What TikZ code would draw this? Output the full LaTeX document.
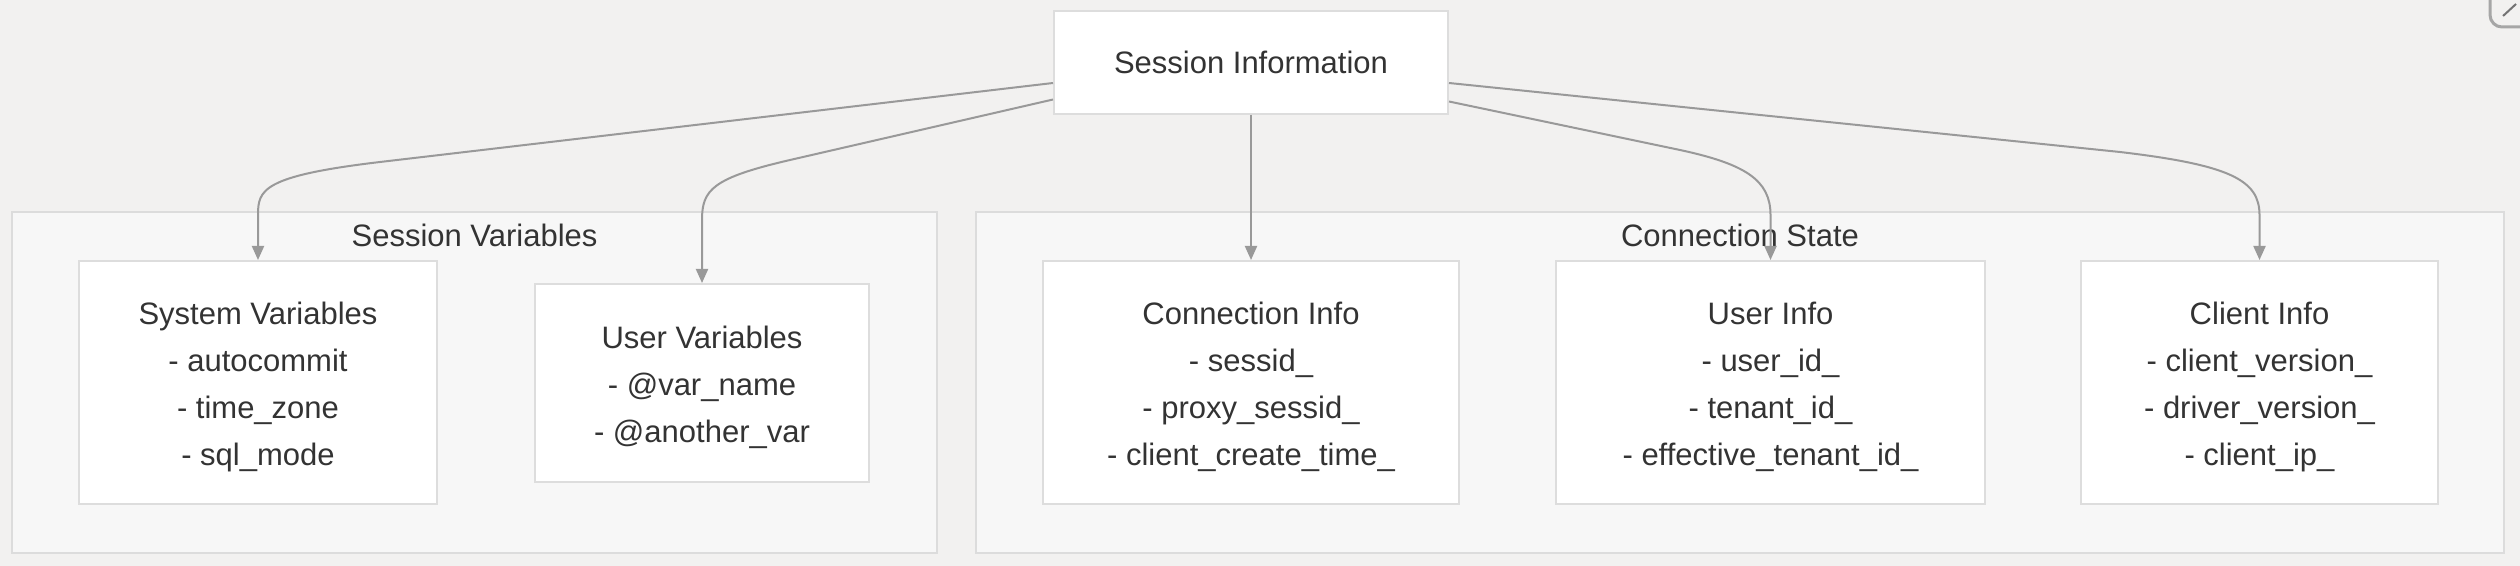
\documentclass[tikz,border=0pt]{standalone}
\usepackage{fontspec}
\setmainfont{Liberation Sans}
\usetikzlibrary{arrows.meta}
\definecolor{bg}{HTML}{F2F1F0}
\definecolor{groupfill}{HTML}{F7F7F7}
\definecolor{groupline}{HTML}{DCDCDC}
\definecolor{boxline}{HTML}{DDDDDD}
\definecolor{wire}{HTML}{999999}
\definecolor{ink}{HTML}{333333}
\newcommand{\topgap}{\rule{0pt}{16pt}}
\begin{document}
\begin{tikzpicture}[x=0.5pt,y=-0.5pt,
  main/.style = {draw=boxline, fill=white, line width=1pt, align=center, text=ink,
                 font=\fontsize{15.5}{23.5}\selectfont, inner sep=0pt},
  cluster/.style = {draw=groupline, fill=groupfill, line width=1pt, inner sep=0pt},
  grouptitle/.style = {text=ink, font=\fontsize{15.5}{18}\selectfont},
  arrowline/.style = {draw=wire, line width=1pt, -{Triangle[length=7pt,width=6pt]}}]
  \useasboundingbox[fill=bg] (0,0) rectangle (2520,566);

  % groups
  \node[cluster, minimum width=462.5pt, minimum height=170.5pt](vars) at (474.5,382.5){};
  \node[cluster, minimum width=764pt, minimum height=170.5pt](conn) at (1740,382.5){};
  \node[grouptitle](varstitle) at ([yshift=-12pt]vars.north){Session Variables};
  \node[grouptitle](conntitle) at ([yshift=-12pt]conn.north){Connection State};

  % boxes
  \node[main, minimum width=197pt, minimum height=51.5pt](info) at (1251,62.5){Session Information};
  \node[main, minimum width=179pt, minimum height=121.5pt](sys) at (258,382.5)
       {\topgap System Variables\\- autocommit\\- time\_zone\\- sql\_mode};
  \node[main, minimum width=167pt, minimum height=99pt](uvar) at (702,383)
       {\topgap User Variables\\- @var\_name\\- @another\_var};
  \node[main, minimum width=208pt, minimum height=121.5pt](cinfo) at (1251,382.5)
       {\topgap Connection Info\\- sessid\_\\- proxy\_sessid\_\\- client\_create\_time\_};
  \node[main, minimum width=214.5pt, minimum height=121.5pt](uinfo) at (1770.5,382.5)
       {\topgap User Info\\- user\_id\_\\- tenant\_id\_\\- effective\_tenant\_id\_};
  \node[main, minimum width=178.5pt, minimum height=121.5pt](clinfo) at (2259.5,382.5)
       {\topgap Client Info\\- client\_version\_\\- driver\_version\_\\- client\_ip\_};

  % connectors
  \draw[arrowline] ([yshift=-10.25pt]info.west) -- (380,162)
       .. controls (262,176) and (258,190) .. (sys.north |- 0,215) -- (sys.north);
  \draw[arrowline] ([yshift=-18.5pt]info.west) -- (790,160)
       .. controls (712,178) and (702,190) .. (uvar.north |- 0,220) -- (uvar.north);
  \draw[arrowline] (info.south) -- (cinfo.north);
  \draw[arrowline] ([yshift=-19.5pt]info.east) -- (1680,150)
       .. controls (1745,164) and (1770.5,180) .. (uinfo.north |- 0,215) -- (uinfo.north);
  \draw[arrowline] ([yshift=-10.25pt]info.east) -- (2120,152)
       .. controls (2230,165) and (2259.5,180) .. (clinfo.north |- 0,215) -- (clinfo.north);

  % corner button
  \begin{scope}
    \clip (0,0) rectangle (2520,566);
    \draw[draw=black!35, line width=1.5pt, rounded corners=6pt] (2490,-30) rectangle (2560,27);
    \draw[draw=black!55, line width=1pt] (2503,16) -- (2516,4);
  \end{scope}
\end{tikzpicture}
\end{document}
